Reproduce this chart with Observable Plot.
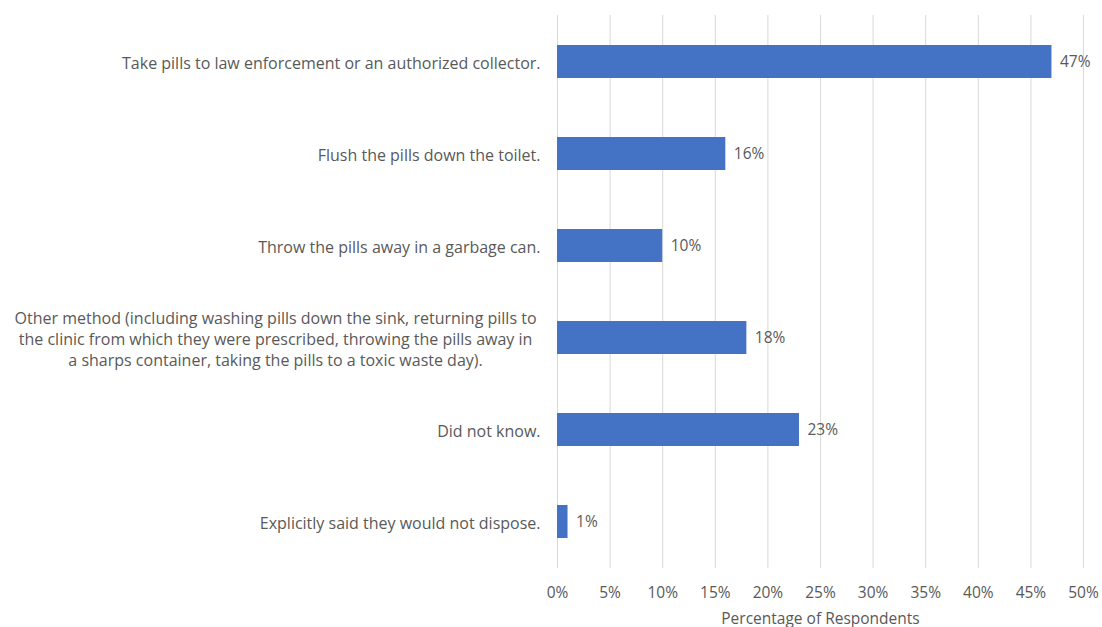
<!DOCTYPE html>
<html><head>
<meta charset="utf-8">
<script src="https://cdn.jsdelivr.net/npm/d3@7"></script>
<script src="https://cdn.jsdelivr.net/npm/@observablehq/plot@0.6"></script>
<style>body{margin:0;background:#fff;} #chart{width:1102px;height:627px;}</style>
</head><body><div id="chart"></div>
<script>
const categories = [
  "Take pills to law enforcement or an authorized collector.",
  "Flush the pills down the toilet.",
  "Throw the pills away in a garbage can.",
  "Other method (including washing pills down the sink, returning pills to\nthe clinic from which they were prescribed, throwing the pills away in\na sharps container, taking the pills to a toxic waste day).",
  "Did not know.",
  "Explicitly said they would not dispose."
];
const values = [0.47, 0.16, 0.10, 0.18, 0.23, 0.01];
const xTicks = [0, 0.05, 0.10, 0.15, 0.20, 0.25, 0.30, 0.35, 0.40, 0.45, 0.50];
const xLabel = "Percentage of Respondents";

const data = categories.map((c, i) => ({category: c, value: values[i]}));
const pct = d => `${Math.round(d * 100)}%`;

const chart = Plot.plot({
  width: 1102,
  height: 627,
  marginLeft: 557,
  marginRight: 19,
  marginTop: 15,
  marginBottom: 59,
  style: {fontFamily: "'Open Sans', Lato, sans-serif", fontSize: "16px", color: "#595959", background: "#fff"},
  x: {domain: [0, 0.5]},
  y: {domain: categories, paddingInner: 0.642, paddingOuter: 0.321},
  marks: [
    Plot.ruleX(xTicks, {stroke: "#d9d9d9", strokeWidth: 1}),
    Plot.barX(data, {x: "value", y: "category", fill: "#4472C4"}),
    Plot.text(data, {x: "value", y: "category", text: d => pct(d.value), textAnchor: "start", dx: 8, fill: "#595959", fontSize: 15.5}),
    Plot.axisX(xTicks, {tickSize: 0, tickPadding: 18, tickFormat: pct, fontSize: 15.5, label: xLabel, labelAnchor: "center", labelArrow: "none", labelOffset: 55}),
    Plot.axisY({tickSize: 0, tickPadding: 17, fontSize: 16, lineHeight: 1.32, label: null})
  ]
});
document.getElementById("chart").appendChild(chart);

// center-align multi-line category label like the original
chart.querySelectorAll('g[aria-label="y-axis tick label"] text').forEach(t => {
  const spans = t.querySelectorAll("tspan");
  if (spans.length > 1) {
    const w = t.getBBox().width;
    t.setAttribute("text-anchor", "middle");
    spans.forEach(s => s.setAttribute("x", -w / 2 - 4));
  }
});
</script>
</body></html>
